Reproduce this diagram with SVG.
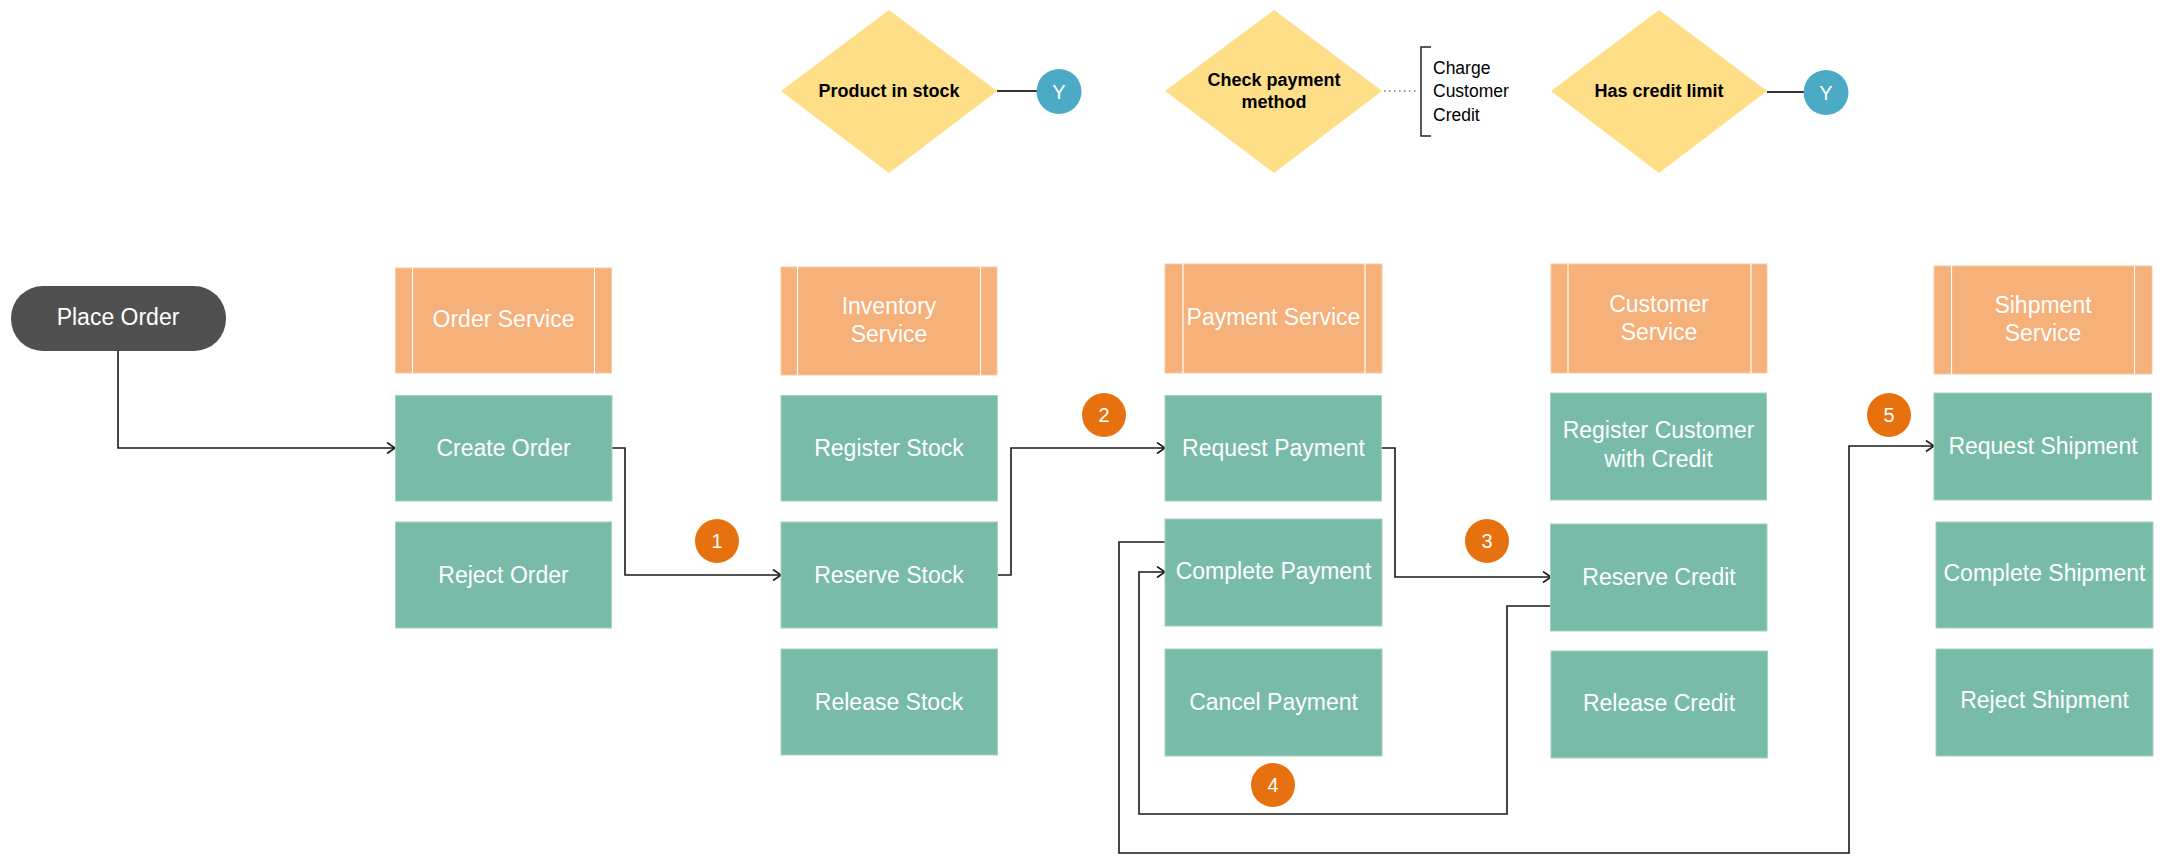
<svg xmlns="http://www.w3.org/2000/svg" width="2169" height="864" viewBox="0 0 2169 864">
<style>
text{font-family:"Liberation Sans",Arial,sans-serif}
.box{fill:#78BBA8;stroke:#A3D2C3;stroke-width:1}
.hdr{fill:#F6B07A;stroke:#F9CBA5;stroke-width:1}
.hl{stroke:#FFFFFF;stroke-width:1.2}
.bt{fill:#FFFFFF;font-size:23px;text-anchor:middle}
.dia{fill:#FEDF87}
.dt{fill:#000000;font-size:18px;font-weight:bold;text-anchor:middle}
.badge{fill:#E8710F}
.yc{fill:#4BABC6}
.nt{fill:#FFFFFF;font-size:20px;text-anchor:middle}
.conn{fill:none;stroke:#1A1A1A;stroke-width:1.6}
.note{fill:#000000;font-size:17.5px}
</style>
<defs>
<marker id="arr" markerUnits="userSpaceOnUse" markerWidth="12" markerHeight="14" refX="9" refY="6" orient="auto">
<path d="M1,0.5 L9,6 L1,11.5" fill="none" stroke="#1A1A1A" stroke-width="1.6"/>
</marker>
</defs>

<g id="connectors">
<path class="conn" d="M118 351 V448 H395" marker-end="url(#arr)"/>
<path class="conn" d="M612 448 H625 V575 H781" marker-end="url(#arr)"/>
<path class="conn" d="M997 575 H1011 V448 H1165" marker-end="url(#arr)"/>
<path class="conn" d="M1382 448 H1395 V577 H1551" marker-end="url(#arr)"/>
<path class="conn" d="M1550 606 H1507 V814 H1139 V572 H1165" marker-end="url(#arr)"/>
<path class="conn" d="M1165 542 H1119 V853 H1849 V446 H1934" marker-end="url(#arr)"/>
<line x1="997" y1="91" x2="1037" y2="91" stroke="#333333" stroke-width="2.2"/>
<line x1="1767" y1="92" x2="1804" y2="92" stroke="#333333" stroke-width="2.2"/>
<line x1="1384" y1="91" x2="1419" y2="91" stroke="#333333" stroke-width="1.2" stroke-dasharray="1.5,3.5"/>
</g>

<g id="place-order">
<rect x="11" y="286" width="215" height="65" rx="32" ry="32" fill="#505050"/>
<text class="bt" x="118" y="325">Place Order</text>
</g>

<g id="product-in-stock">
<polygon class="dia" points="889,10 997,91 889,173 781,91"/>
<text class="dt" x="889" y="97">Product in stock</text>
</g>
<g id="y1">
<circle class="yc" cx="1059" cy="91.5" r="22.5"/>
<text class="nt" x="1059" y="98.5">Y</text>
</g>

<g id="check-payment-method">
<polygon class="dia" points="1274,10 1382,91 1274,173 1165,91"/>
<text class="dt" x="1274" y="86">Check payment</text>
<text class="dt" x="1274" y="108">method</text>
</g>
<g id="note-charge">
<path d="M1431 47 H1421 V136 H1431" fill="none" stroke="#222222" stroke-width="1.5"/>
<text class="note" x="1433" y="74">Charge</text>
<text class="note" x="1433" y="97">Customer</text>
<text class="note" x="1433" y="120.5">Credit</text>
</g>

<g id="has-credit-limit">
<polygon class="dia" points="1659,10 1767,91 1659,173 1551,91"/>
<text class="dt" x="1659" y="97">Has credit limit</text>
</g>
<g id="y2">
<circle class="yc" cx="1826" cy="92.5" r="22.5"/>
<text class="nt" x="1826" y="99.5">Y</text>
</g>

<g id="order-service">
<rect class="hdr" x="395.5" y="268" width="216" height="105"/>
<line class="hl" x1="412.5" y1="268" x2="412.5" y2="373"/>
<line class="hl" x1="594.5" y1="268" x2="594.5" y2="373"/>
<text class="bt" x="503.5" y="327">Order Service</text>
</g>
<g id="inventory-service">
<rect class="hdr" x="781" y="267" width="216" height="108"/>
<line class="hl" x1="797.5" y1="267" x2="797.5" y2="375"/>
<line class="hl" x1="980.5" y1="267" x2="980.5" y2="375"/>
<text class="bt" x="889" y="314">Inventory</text>
<text class="bt" x="889" y="342">Service</text>
</g>
<g id="payment-service">
<rect class="hdr" x="1165" y="264" width="217" height="109"/>
<line class="hl" x1="1183" y1="264" x2="1183" y2="373"/>
<line class="hl" x1="1365" y1="264" x2="1365" y2="373"/>
<text class="bt" x="1273.5" y="325">Payment Service</text>
</g>
<g id="customer-service">
<rect class="hdr" x="1551" y="264" width="216" height="109"/>
<line class="hl" x1="1568" y1="264" x2="1568" y2="373"/>
<line class="hl" x1="1751" y1="264" x2="1751" y2="373"/>
<text class="bt" x="1659" y="312">Customer</text>
<text class="bt" x="1659" y="340">Service</text>
</g>
<g id="shipment-service">
<rect class="hdr" x="1934" y="266" width="218" height="108"/>
<line class="hl" x1="1951.5" y1="266" x2="1951.5" y2="374"/>
<line class="hl" x1="2134.5" y1="266" x2="2134.5" y2="374"/>
<text class="bt" x="2043" y="312.5">Sihpment</text>
<text class="bt" x="2043" y="340.5">Service</text>
</g>

<g id="create-order"><rect class="box" x="395.5" y="395.5" width="216.5" height="105.5"/><text class="bt" x="503.5" y="455.5">Create Order</text></g>
<g id="reject-order"><rect class="box" x="395.5" y="522" width="216" height="106"/><text class="bt" x="503.5" y="583">Reject Order</text></g>

<g id="register-stock"><rect class="box" x="781" y="395.5" width="216.5" height="105.5"/><text class="bt" x="889" y="455.5">Register Stock</text></g>
<g id="reserve-stock"><rect class="box" x="781" y="522" width="216.5" height="106"/><text class="bt" x="889" y="583">Reserve Stock</text></g>
<g id="release-stock"><rect class="box" x="781" y="649" width="216.5" height="106"/><text class="bt" x="889" y="710">Release Stock</text></g>

<g id="request-payment"><rect class="box" x="1165" y="395.5" width="216.5" height="105.5"/><text class="bt" x="1273.5" y="455.5">Request Payment</text></g>
<g id="complete-payment"><rect class="box" x="1165" y="519" width="217" height="107"/><text class="bt" x="1273.5" y="579">Complete Payment</text></g>
<g id="cancel-payment"><rect class="box" x="1165" y="649" width="217" height="107"/><text class="bt" x="1273.5" y="710">Cancel Payment</text></g>

<g id="register-customer"><rect class="box" x="1550.5" y="393" width="216" height="107"/><text class="bt" x="1658.5" y="438">Register Customer</text><text class="bt" x="1658.5" y="467">with Credit</text></g>
<g id="reserve-credit"><rect class="box" x="1550.5" y="524" width="216.5" height="107"/><text class="bt" x="1659" y="585">Reserve Credit</text></g>
<g id="release-credit"><rect class="box" x="1551" y="651" width="216.5" height="107"/><text class="bt" x="1659" y="711">Release Credit</text></g>

<g id="request-shipment"><rect class="box" x="1934" y="393" width="217.5" height="107"/><text class="bt" x="2043" y="454">Request Shipment</text></g>
<g id="complete-shipment"><rect class="box" x="1936" y="522" width="217" height="106"/><text class="bt" x="2044.5" y="581">Complete Shipment</text></g>
<g id="reject-shipment"><rect class="box" x="1936" y="649" width="217" height="107"/><text class="bt" x="2044.5" y="708">Reject Shipment</text></g>

<g id="badge-1"><circle class="badge" cx="717" cy="541" r="22"/><text class="nt" x="717" y="548">1</text></g>
<g id="badge-2"><circle class="badge" cx="1104" cy="415" r="22"/><text class="nt" x="1104" y="422">2</text></g>
<g id="badge-3"><circle class="badge" cx="1487" cy="541" r="22"/><text class="nt" x="1487" y="548">3</text></g>
<g id="badge-4"><circle class="badge" cx="1273" cy="785" r="22"/><text class="nt" x="1273" y="792">4</text></g>
<g id="badge-5"><circle class="badge" cx="1889" cy="415" r="22"/><text class="nt" x="1889" y="422">5</text></g>
</svg>
